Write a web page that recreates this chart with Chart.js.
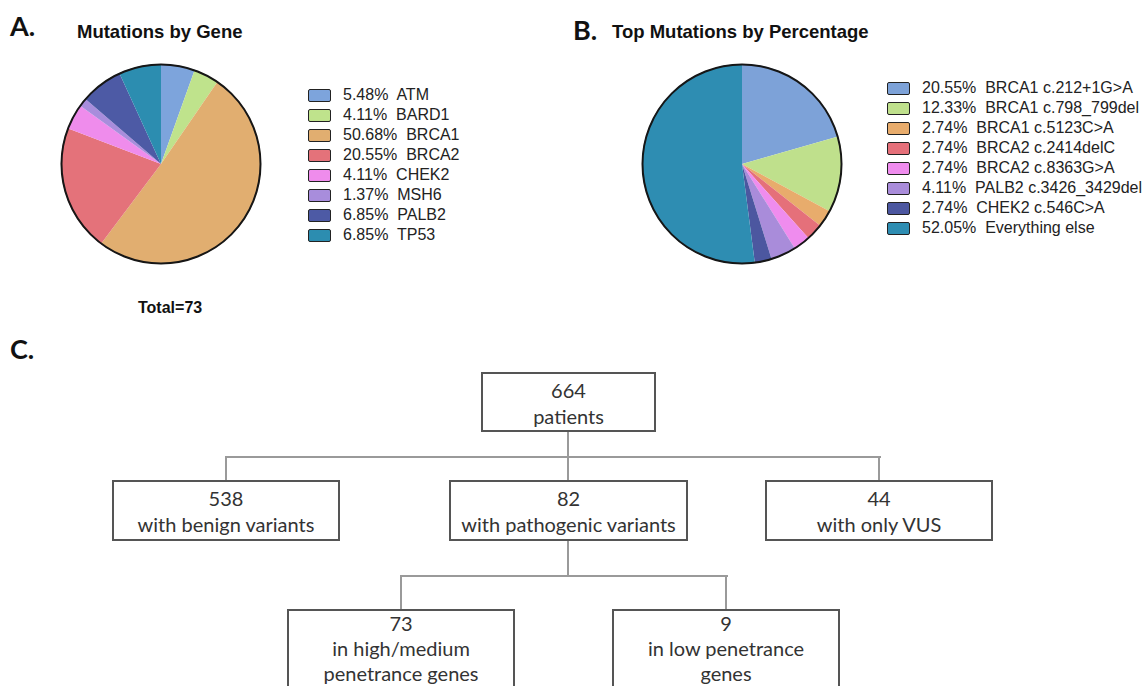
<!DOCTYPE html>
<html>
<head>
<meta charset="utf-8">
<script src="https://cdn.jsdelivr.net/npm/chart.js@4.4.1/dist/chart.umd.min.js"></script>
<style>
  body { margin: 0; width: 1145px; height: 686px; overflow: hidden; background: #fff; position: relative;
         font-family: Arial, "Liberation Sans", sans-serif; }
  .abs { position: absolute; white-space: nowrap; line-height: 1; }
  .letter { font-family: Lato, sans-serif; font-weight: bold; font-size: 27px; color: #111; }
  .title { font-weight: bold; font-size: 18.5px; color: #111; }
  .legend { position: absolute; font-size: 16px; color: #222; }
  .legend .row { height: 20px; display: flex; align-items: center; white-space: pre; }
  .legend .sw { width: 23px; height: 13px; box-sizing: border-box; border: 1.5px solid #222; border-radius: 2px; margin-right: 12px; }
  .box { position: absolute; box-sizing: border-box; border: 2px solid #555; background: #fff;
         font-family: Lato, sans-serif; font-size: 20px; color: #333; text-align: center; line-height: 26px; }
  .line { position: absolute; background: #9a9a9a; }
  canvas { position: absolute; }
</style>
</head>
<body>

<div class="abs letter" style="left:10px; top:12px;">A.</div>
<div class="abs title" style="left:77px; top:23px;">Mutations by Gene</div>
<div class="abs letter" style="left:573px; top:16px;">B.</div>
<div class="abs title" style="left:612px; top:23px;">Top Mutations by Percentage</div>
<div class="abs letter" style="left:10px; top:335px;">C.</div>
<div class="abs" style="left:138px; top:300px; font-weight:bold; font-size:16px; color:#111;">Total=73</div>

<canvas id="pieA" width="204" height="204" style="left:59px; top:62px;"></canvas>
<canvas id="pieB" width="204" height="204" style="left:640px; top:62px;"></canvas>
<div id="legendA" class="legend" style="left:308px; top:85px;"></div>
<div id="legendB" class="legend" style="left:887px; top:78px;"></div>

<div id="flow"></div>

<script>
// panel A: mutations by gene (percent of 73)
const geneLabels = ['ATM', 'BARD1', 'BRCA1', 'BRCA2', 'CHEK2', 'MSH6', 'PALB2', 'TP53'];
const genePercents = [5.48, 4.11, 50.68, 20.55, 4.11, 1.37, 6.85, 6.85];

// panel B: top mutations
const mutationLabels = ['BRCA1 c.212+1G>A', 'BRCA1 c.798_799del', 'BRCA1 c.5123C>A', 'BRCA2 c.2414delC',
                        'BRCA2 c.8363G>A', 'PALB2 c.3426_3429del', 'CHEK2 c.546C>A', 'Everything else'];
const mutationPercents = [20.55, 12.33, 2.74, 2.74, 2.74, 4.11, 2.74, 52.05];

// panel C: patient flow
const flowCounts = [664, 538, 82, 44, 73, 9];
const flowTexts = ['patients', 'with benign variants', 'with pathogenic variants', 'with only VUS',
                   'in high/medium<br>penetrance genes', 'in low penetrance<br>genes'];

const colorsA = ['#7da4dc', '#bfe38c', '#e1ae70', '#e4727a', '#ef8cec', '#a88ddc', '#4d5aa5', '#2c8db0'];
const colorsB = ['#7da2d8', '#bfe08c', '#e8ac6c', '#e5707a', '#ef8cee', '#a98cda', '#4c57a0', '#2e8db2'];

// outer black ring round the pie (slices themselves have no border)
const outlinePlugin = {
  id: 'outline',
  afterDatasetsDraw(chart) {
    const arc = chart.getDatasetMeta(0).data[0];
    const c = chart.ctx;
    c.save();
    c.beginPath();
    c.arc(arc.x, arc.y, arc.outerRadius - 0.5, 0, Math.PI * 2);
    c.lineWidth = 2;
    c.strokeStyle = '#161616';
    c.stroke();
    c.restore();
  }
};

function makePie(id, labels, values, colors) {
  return new Chart(document.getElementById(id), {
    type: 'pie',
    data: {
      labels: labels,
      datasets: [{ data: values, backgroundColor: colors, borderWidth: 0, hoverOffset: 0 }]
    },
    options: {
      responsive: false,
      animation: false,
      layout: { padding: 2 },
      plugins: { legend: { display: false }, tooltip: { enabled: false } }
    },
    plugins: [outlinePlugin]
  });
}

function buildLegend(chart, el) {
  const ds = chart.data.datasets[0];
  chart.data.labels.forEach((lab, i) => {
    const row = document.createElement('div');
    row.className = 'row';
    const sw = document.createElement('span');
    sw.className = 'sw';
    sw.style.background = ds.backgroundColor[i];
    const txt = document.createElement('span');
    txt.textContent = ds.data[i].toFixed(2) + '%  ' + lab;
    row.appendChild(sw);
    row.appendChild(txt);
    el.appendChild(row);
  });
}

const pieA = makePie('pieA', geneLabels, genePercents, colorsA);
const pieB = makePie('pieB', mutationLabels, mutationPercents, colorsB);
buildLegend(pieA, document.getElementById('legendA'));
buildLegend(pieB, document.getElementById('legendB'));

// flowchart layout: left, top, width, height, padding-top, line-height
const boxPos = [
  [481, 372, 175, 60, 3, 26],
  [112, 480, 228, 61, 3, 26],
  [449, 480, 239, 61, 3, 26],
  [765, 480, 228, 61, 3, 26],
  [287, 609, 228, 100, 0, 25],
  [612, 609, 228, 100, 0, 25]
];
const lines = [
  [567, 432, 2, 24], [226, 456, 655, 2], [225, 456, 2, 24], [567, 456, 2, 24], [878, 456, 2, 24],
  [567, 541, 2, 34], [400, 575, 328, 2], [400, 575, 2, 34], [725, 575, 2, 34]
];
const flow = document.getElementById('flow');
lines.forEach(l => {
  const d = document.createElement('div');
  d.className = 'line';
  d.style.cssText = `left:${l[0]}px;top:${l[1]}px;width:${l[2]}px;height:${l[3]}px;`;
  flow.appendChild(d);
});
flowCounts.forEach((n, i) => {
  const p = boxPos[i];
  const d = document.createElement('div');
  d.className = 'box';
  d.style.cssText = `left:${p[0]}px;top:${p[1]}px;width:${p[2]}px;height:${p[3]}px;padding-top:${p[4]}px;line-height:${p[5]}px;`;
  d.innerHTML = n + '<br>' + flowTexts[i];
  flow.appendChild(d);
});
</script>
</body>
</html>
